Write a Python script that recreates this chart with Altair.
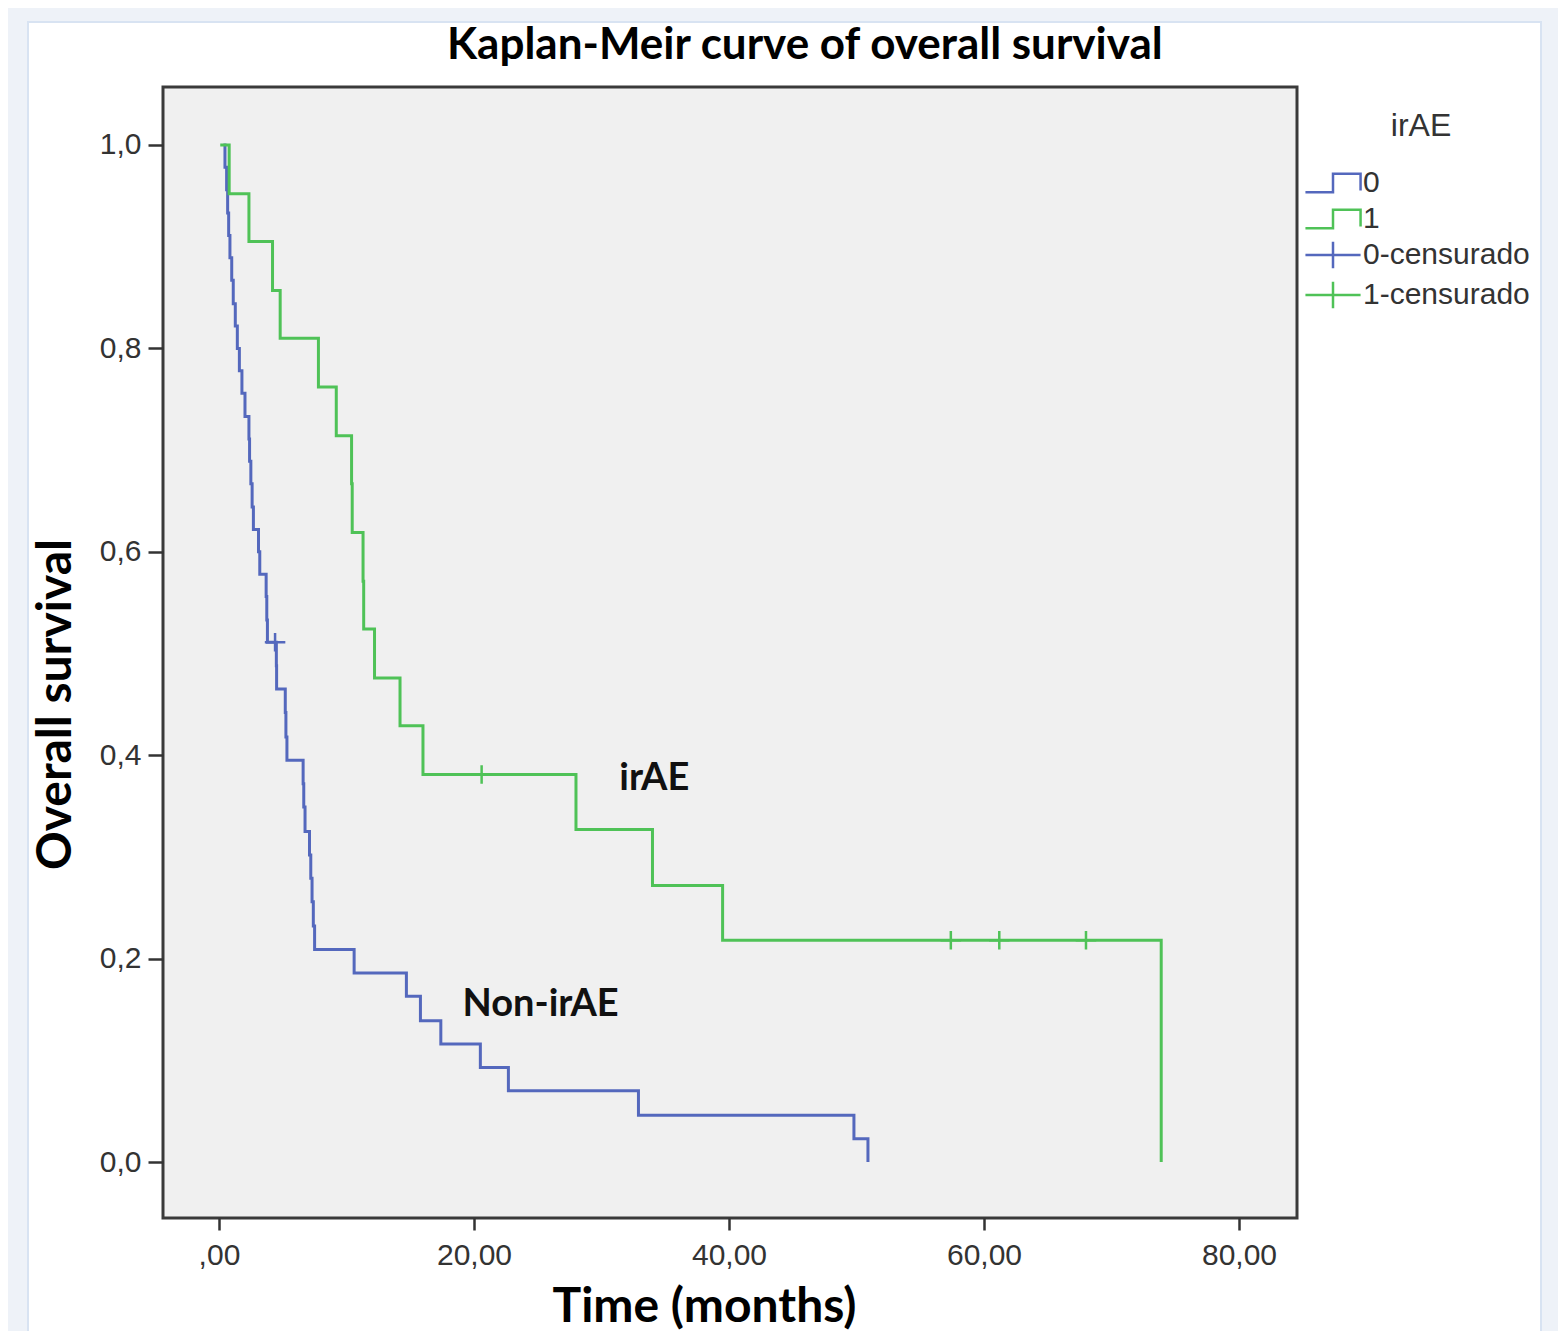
import altair as alt
import pandas as pd

# ---- data ----
chart_title = "Kaplan-Meir curve of overall survival"

# Non-irAE group (irAE = 0): step points (time in months, survival)
blue_time = [0.35, 0.47, 0.6, 0.68, 0.76, 0.86, 1.0, 1.12, 1.28, 1.44, 1.6, 1.8, 2.04,
             2.35, 2.4, 2.5, 2.6, 2.7, 3.1, 3.2, 3.7, 3.75, 3.8, 4.5, 4.52, 5.2, 5.25,
             5.33, 6.6, 6.65, 6.75, 7.1, 7.2, 7.3, 7.4, 7.5, 10.6, 14.7, 15.8, 17.4,
             20.5, 22.7, 32.9, 49.8, 50.9]
blue_surv = [1.0, 0.978, 0.956, 0.933, 0.911, 0.889, 0.867, 0.844, 0.822, 0.800, 0.778,
             0.756, 0.733, 0.711, 0.689, 0.667, 0.644, 0.622, 0.600, 0.578, 0.556, 0.533,
             0.511, 0.488, 0.465, 0.442, 0.418, 0.395, 0.372, 0.349, 0.325, 0.302, 0.279,
             0.256, 0.232, 0.209, 0.186, 0.163, 0.139, 0.116, 0.093, 0.070, 0.046, 0.023,
             0.0]
blue_cens_time = [4.4]
blue_cens_surv = [0.511]

# irAE group (irAE = 1)
green_time = [0.1, 0.8, 2.35, 4.2, 4.8, 7.8, 9.2, 10.4, 10.45, 11.3, 11.35, 12.2, 14.2,
              16.0, 28.0, 34.0, 39.5, 73.9]
green_surv = [1.0, 0.952, 0.905, 0.857, 0.810, 0.762, 0.714, 0.667, 0.619, 0.571, 0.524,
              0.476, 0.429, 0.381, 0.327, 0.272, 0.218, 0.0]
green_cens_time = [20.6, 57.4, 61.2, 68.0]
green_cens_surv = [0.381, 0.218, 0.218, 0.218]

legend_items = ["0", "1", "0-censurado", "1-censurado"]
annot_text = ["irAE", "Non-irAE"]
annot_time = [31.4, 19.1]
annot_surv = [0.366, 0.144]

x_ticks = [0, 20, 40, 60, 80]
y_ticks = [0.0, 0.2, 0.4, 0.6, 0.8, 1.0]

# ---- style ----
BLUE = "#5468bd"
GREEN = "#4fc257"
W, H = 1134, 1131

blue_df = pd.DataFrame({"t": blue_time, "s": blue_surv})
green_df = pd.DataFrame({"t": green_time, "s": green_surv})
bc_df = pd.DataFrame({"t": blue_cens_time, "s": blue_cens_surv})
gc_df = pd.DataFrame({"t": green_cens_time, "s": green_cens_surv})
ann_df = pd.DataFrame({"t": annot_time, "s": annot_surv, "label": annot_text})
leg_df = pd.DataFrame({"grp": legend_items})

xscale = alt.Scale(domain=[-4.39, 84.55], nice=False, zero=False)
yscale = alt.Scale(domain=[-0.055, 1.057], nice=False, zero=False)

x_axis = alt.Axis(values=x_ticks, title="Time (months)", zindex=2, grid=False, domain=False,
                  labelExpr="datum.value == 0 ? ',00' : replace(format(datum.value, '.2f'), '.', ',')",
                  tickSize=12, labelPadding=10,
                  titleX=541, titleY=103, titleAnchor="middle", titleAlign="center",
                  titleBaseline="alphabetic")
y_axis = alt.Axis(values=y_ticks, title="Overall survival", zindex=2, grid=False, domain=False,
                  labelExpr="replace(format(datum.value, '.1f'), '.', ',')",
                  tickSize=15, labelPadding=7,
                  titleX=-93, titleY=617, titleAngle=-90, titleAlign="center",
                  titleBaseline="alphabetic")

x_enc = alt.X("t:Q", scale=xscale, axis=x_axis)
y_enc = alt.Y("s:Q", scale=yscale, axis=y_axis)

panel = alt.Chart(alt.Data(values=[{}])).mark_rect(
    fill="white", stroke="#d8e3f2", strokeWidth=2
).encode(x=alt.value(-135), x2=alt.value(1378), y=alt.value(-65), y2=alt.value(1260))

plotbg = alt.Chart(alt.Data(values=[{}])).mark_rect(
    fill="#f0f0f0", stroke="#3a3a3a", strokeWidth=3
).encode(x=alt.value(0), x2=alt.value("width"), y=alt.value(0), y2=alt.value("height"))

title_mark = alt.Chart(alt.Data(values=[{"title": chart_title}])).mark_text(
    font="Lato", fontWeight="bold", fontSize=44, color="#000000",
    align="left", baseline="alphabetic"
).encode(x=alt.value(284), y=alt.value(-28), text="title:N")

blue_line = alt.Chart(blue_df).mark_line(
    interpolate="step-after", color=BLUE, strokeWidth=3
).encode(x=x_enc, y=y_enc)

green_line = alt.Chart(green_df).mark_line(
    interpolate="step-after", color=GREEN, strokeWidth=3
).encode(x=x_enc, y=y_enc)

CROSS_SMALL = "M-1,0H1M0,-0.9V0.9"
blue_cens = alt.Chart(bc_df).mark_point(
    shape=CROSS_SMALL, size=420, filled=False, color=BLUE, strokeWidth=2.5, opacity=1
).encode(x=x_enc, y=y_enc)
green_cens = alt.Chart(gc_df).mark_point(
    shape=CROSS_SMALL, size=420, filled=False, color=GREEN, strokeWidth=2.5, opacity=1
).encode(x=x_enc, y=y_enc)

annot = alt.Chart(ann_df).mark_text(
    font="Lato", fontWeight="bold", fontSize=38, align="left", baseline="alphabetic",
    color="#111111"
).encode(x=x_enc, y=y_enc, text="label:N")

STEP = "M-1.49,0.5H0V-0.5H1.49V0.4"
CROSS = "M-1.49,0H1.49M0,-0.72V0.72"
legend_layer = alt.Chart(leg_df).transform_filter("false").mark_point(
    filled=False, strokeWidth=2.5, opacity=1
).encode(
    color=alt.Color("grp:N", scale=alt.Scale(domain=legend_items,
                                            range=[BLUE, GREEN, BLUE, GREEN]),
                    legend=alt.Legend(title="irAE")),
    shape=alt.Shape("grp:N", scale=alt.Scale(domain=legend_items,
                                            range=[STEP, STEP, CROSS, CROSS]),
                    legend=alt.Legend(title="irAE")),
)

chart = alt.layer(
    panel, plotbg, title_mark, blue_line, green_line, blue_cens, green_cens, annot,
    legend_layer
).properties(
    width=W, height=H,
    autosize=alt.AutoSizeParams(type="none"),
    padding={"left": 155, "top": 79, "right": 261, "bottom": 113},
    background="#eef2f8",
).configure_view(
    stroke=None, fill=None
).configure_axis(
    labelFont="Liberation Sans", labelFontSize=30, labelColor="#333333",
    tickColor="#333333", tickWidth=2.5,
    titleFont="Lato", titleFontWeight="bold", titleFontSize=48, titleColor="#000000",
).configure_legend(
    orient="none", legendX=1150, legendY=24, zindex=2,
    titleFont="Liberation Sans", titleFontWeight="normal", titleFontSize=32,
    titleColor="#333333", titleAnchor="middle", titlePadding=20,
    labelFont="Liberation Sans", labelFontSize=30, labelColor="#333333", labelLimit=400,
    symbolSize=1369, symbolStrokeWidth=2.5, labelOffset=10, rowPadding=1,
)

chart.save("out.html", embed_options={"renderer": "svg", "actions": False})
